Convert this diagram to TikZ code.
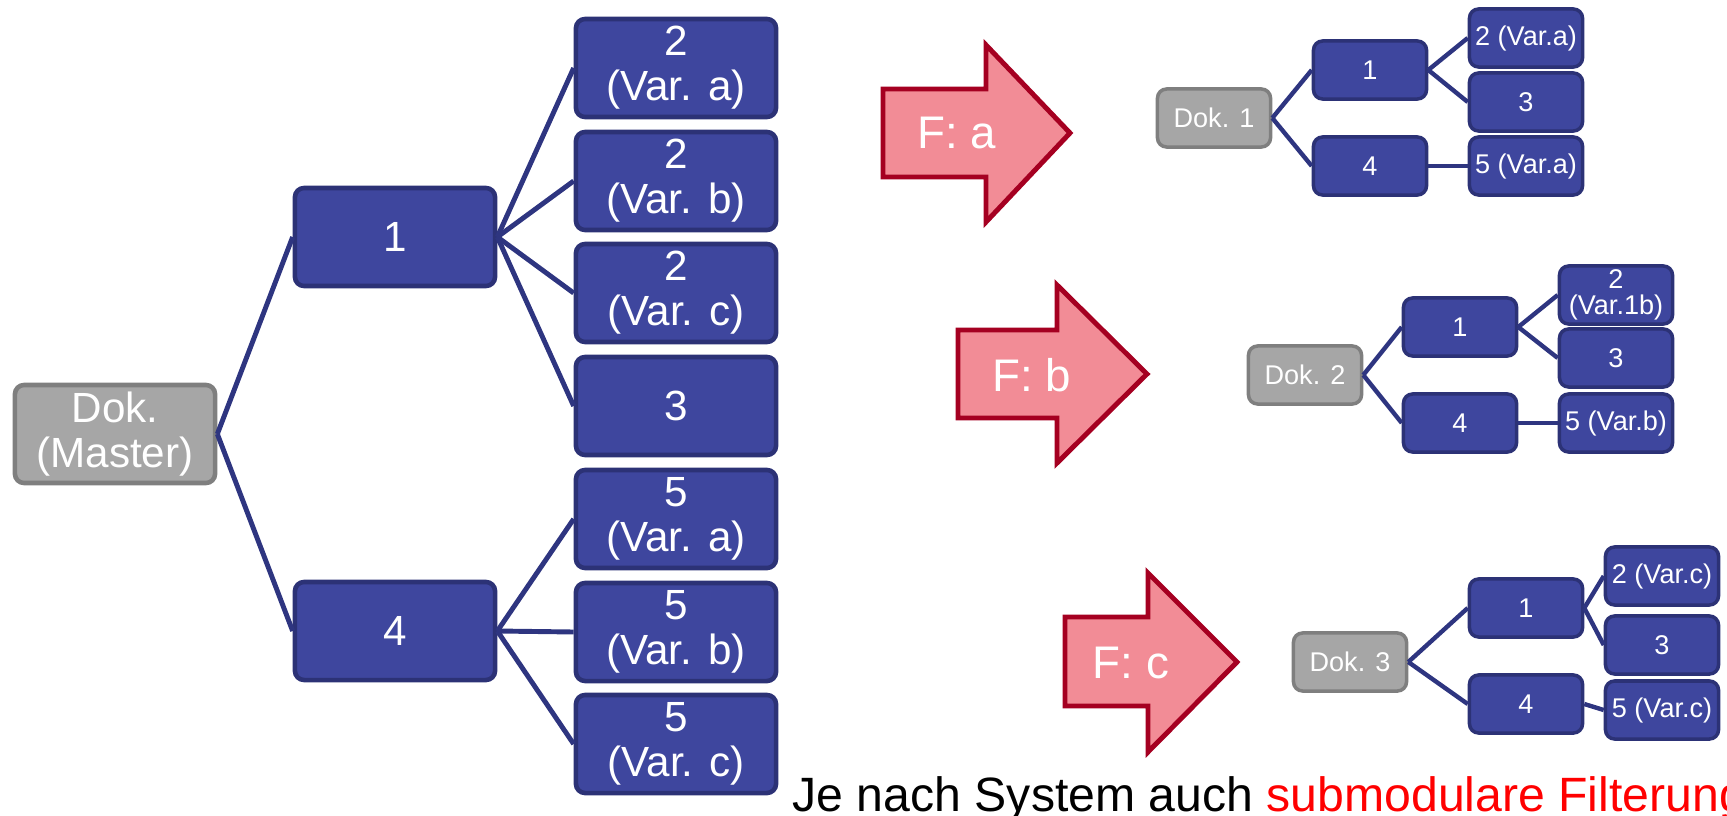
\documentclass[tikz,border=0pt]{standalone}
\usepackage{fontspec}
\setmainfont{Liberation Sans}
\definecolor{boxblue}{RGB}{62,70,158}
\definecolor{boxline}{RGB}{44,50,118}
\definecolor{treeline}{RGB}{46,53,128}
\definecolor{dokgray}{RGB}{166,166,166}
\definecolor{dokline}{RGB}{127,127,127}
\definecolor{arrowpink}{RGB}{242,140,150}
\definecolor{arrowred}{RGB}{165,0,33}

\begin{document}
\begin{tikzpicture}[x=0.01cm,y=-0.01cm,
		every node/.style={draw,rounded corners=2.6pt,text=white,align=center,inner sep=0pt},
		big/.style={fill=boxblue,draw=boxline,line width=1.3pt,minimum width=2cm,minimum height=0.98cm,font=\fontsize{12}{12.8}\selectfont},
		master/.style={big,fill=dokgray,draw=dokline},
		small/.style={fill=boxblue,draw=boxline,line width=1pt,minimum width=1.13cm,minimum height=0.58cm,font=\fontsize{7.7}{7.4}\selectfont},
		doksmall/.style={small,fill=dokgray,draw=dokline}]
	\useasboundingbox (0,0) rectangle (1727,815);

	% master document
	\node[master] (M) at (115,434) {Dok.\\(Master)};
	\node[big] (N1) at (395,237) {1};
	\node[big] (N4) at (395,631) {4};
	\node[big] (N2a) at (676,68) {2\\(Var. a)};
	\node[big] (N2b) at (676,181) {2\\(Var. b)};
	\node[big] (N2c) at (676,293) {2\\(Var. c)};
	\node[big] (N3) at (676,406) {3};
	\node[big] (N5a) at (676,519) {5\\(Var. a)};
	\node[big] (N5b) at (676,632) {5\\(Var. b)};
	\node[big] (N5c) at (676,744) {5\\(Var. c)};

	% filtered documents
	\node[doksmall] (A0) at (1214,118) {Dok. 1};
	\node[small] (A1) at (1370,70) {1};
	\node[small] (A4) at (1370,166) {4};
	\node[small] (A2) at (1526,38) {2 (Var.a)};
	\node[small] (A3) at (1526,102) {3};
	\node[small] (A5) at (1526,166) {5 (Var.a)};

	\node[doksmall] (B0) at (1305,375) {Dok. 2};
	\node[small] (B1) at (1460,327) {1};
	\node[small] (B4) at (1460,423) {4};
	\node[small] (B2) at (1616,295) {2\\(Var.1b)};
	\node[small] (B3) at (1616,358) {3};
	\node[small] (B5) at (1616,423) {5 (Var.b)};

	\node[doksmall] (C0) at (1350,662) {Dok. 3};
	\node[small] (C1) at (1526,608) {1};
	\node[small] (C4) at (1526,704) {4};
	\node[small] (C2) at (1662,576) {2 (Var.c)};
	\node[small] (C3) at (1662,645) {3};
	\node[small] (C5) at (1662,710) {5 (Var.c)};

	\begin{scope}[every edge/.style={draw,treeline,line width=1.4pt}]
		\path [-] (M.east) edge (N1.west);
		\path [-] (M.east) edge (N4.west);
		\path [-] (N1.east) edge (N2a.west);
		\path [-] (N1.east) edge (N2b.west);
		\path [-] (N1.east) edge (N2c.west);
		\path [-] (N1.east) edge (N3.west);
		\path [-] (N4.east) edge (N5a.west);
		\path [-] (N4.east) edge (N5b.west);
		\path [-] (N4.east) edge (N5c.west);
	\end{scope}

	\begin{scope}[every edge/.style={draw,treeline,line width=1.25pt}]
		\path [-] (A0.east) edge (A1.west);
		\path [-] (A0.east) edge (A4.west);
		\path [-] (A1.east) edge (A2.west);
		\path [-] (A1.east) edge (A3.west);
		\path [-] (A4.east) edge (A5.west);
		\path [-] (B0.east) edge (B1.west);
		\path [-] (B0.east) edge (B4.west);
		\path [-] (B1.east) edge (B2.west);
		\path [-] (B1.east) edge (B3.west);
		\path [-] (B4.east) edge (B5.west);
		\path [-] (C0.east) edge (C1.west);
		\path [-] (C0.east) edge (C4.west);
		\path [-] (C1.east) edge (C2.west);
		\path [-] (C1.east) edge (C3.west);
		\path [-] (C4.east) edge (C5.west);
	\end{scope}

	% filter arrows
	\begin{scope}[every node/.style={text=white,font=\fontsize{13}{13}\selectfont},
		          farrow/.style={fill=arrowpink,draw=arrowred,line width=1.4pt,line join=miter}]
		\draw[farrow] (883,89) -- (986,89) -- (986,45) -- (1070,133) -- (986,222) -- (986,177) -- (883,177) -- cycle;
		\draw[farrow] (958,330) -- (1057,330) -- (1057,285) -- (1147,374) -- (1057,463) -- (1057,418) -- (958,418) -- cycle;
		\draw[farrow] (1065,617) -- (1148,617) -- (1148,573) -- (1237,662) -- (1148,752) -- (1148,706) -- (1065,706) -- cycle;
		\node (Fa) at (957,133) {F: a};
		\node (Fb) at (1032,375) {F: b};
		\node (Fc) at (1131,663) {F: c};
		\node[text=black,anchor=base west,inner sep=0pt,font=\fontsize{13.7}{13.7}\selectfont] (note) at (792,811) {Je nach System auch \textcolor{red}{submodulare Filterung}};
	\end{scope}
\end{tikzpicture}
\end{document}
